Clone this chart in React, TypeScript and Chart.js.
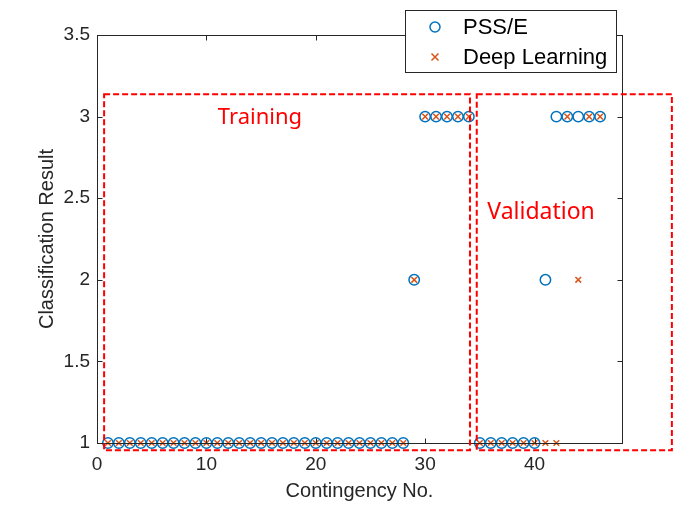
import React, { useEffect, useRef } from 'react';
import { Chart, registerables } from 'chart.js';

Chart.register(...registerables);

// ---- data ----
const contingency = [
  1, 2, 3, 4, 5, 6, 7, 8, 9, 10, 11, 12, 13, 14, 15, 16, 17, 18, 19, 20,
  21, 22, 23, 24, 25, 26, 27, 28, 29, 30, 31, 32, 33, 34, 35, 36, 37, 38, 39, 40,
  41, 42, 43, 44, 45, 46,
];
const pssE = [
  1, 1, 1, 1, 1, 1, 1, 1, 1, 1, 1, 1, 1, 1, 1, 1, 1, 1, 1, 1,
  1, 1, 1, 1, 1, 1, 1, 1, 2, 3, 3, 3, 3, 3, 1, 1, 1, 1, 1, 1,
  2, 3, 3, 3, 3, 3,
];
const deepLearning = [
  1, 1, 1, 1, 1, 1, 1, 1, 1, 1, 1, 1, 1, 1, 1, 1, 1, 1, 1, 1,
  1, 1, 1, 1, 1, 1, 1, 1, 2, 3, 3, 3, 3, 3, 1, 1, 1, 1, 1, 1,
  1, 1, 3, 2, 3, 3,
];
const seriesNames = ['PSS/E', 'Deep Learning'];
const xTickValues = [0, 10, 20, 30, 40];
const yTickValues = [1, 1.5, 2, 2.5, 3, 3.5];
const yTickLabels = ['1', '1.5', '2', '2.5', '3', '3.5'];
const xRange = [0, 48];
const yRange = [1, 3.5];

// annotated regions (data units)
const regionNames = ['Training', 'Validation'];
const regionXStart = [0.65, 34.72];
const regionXEnd = [34.1, 52.56];
const regionYStart = [0.955, 0.955];
const regionYEnd = [3.137, 3.137];
const regionLabelX = [14.9, 40.6];
const regionLabelY = [2.99, 2.415];

const AXIS_FONT = "'Liberation Sans', Arial, sans-serif";
const AXIS_COLOR = '#262626';
const BLUE = '#0072BD';
const ORANGE = '#D95319';

const overlayPlugin = {
  id: 'overlay',
  afterDatasetsDraw(chart: any) {
    const ctx = chart.ctx;
    const { left, right, top, bottom } = chart.chartArea;
    const xs = chart.scales.x;
    const ys = chart.scales.y;
    ctx.save();
    // axes box
    ctx.strokeStyle = AXIS_COLOR;
    ctx.lineWidth = 1;
    ctx.setLineDash([]);
    const L = Math.round(left) + 0.5;
    const R = Math.round(right) + 0.5;
    const T = Math.round(top) + 0.5;
    const B = Math.round(bottom) + 0.5;
    ctx.strokeRect(L, T, R - L, B - T);
    ctx.beginPath();
    xs.ticks.forEach((t: any) => {
      const px = Math.round(xs.getPixelForValue(t.value)) + 0.5;
      ctx.moveTo(px, B);
      ctx.lineTo(px, B - 5);
      ctx.moveTo(px, T);
      ctx.lineTo(px, T + 5);
    });
    ys.ticks.forEach((t: any) => {
      const py = Math.round(ys.getPixelForValue(t.value)) + 0.5;
      ctx.moveTo(L, py);
      ctx.lineTo(L + 5, py);
      ctx.moveTo(R, py);
      ctx.lineTo(R - 5, py);
    });
    ctx.stroke();

    // dashed region rectangles
    ctx.strokeStyle = '#FF0000';
    ctx.lineWidth = 2;
    ctx.setLineDash([6, 3]);
    regionNames.forEach((_, i) => {
      const x0 = xs.getPixelForValue(regionXStart[i]);
      const x1 = xs.getPixelForValue(regionXEnd[i]);
      const y0 = ys.getPixelForValue(regionYStart[i]);
      const y1 = ys.getPixelForValue(regionYEnd[i]);
      ctx.strokeRect(x0, y1, x1 - x0, y0 - y1);
    });
    ctx.setLineDash([]);

    // region labels
    ctx.fillStyle = '#FF0000';
    ctx.textAlign = 'center';
    ctx.textBaseline = 'middle';
    regionNames.forEach((name, i) => {
      ctx.font = `${i === 0 ? 22 : 23}px 'Noto Sans', 'Open Sans', sans-serif`;
      ctx.fillText(name, xs.getPixelForValue(regionLabelX[i]), ys.getPixelForValue(regionLabelY[i]));
    });

    // legend box
    const bx = 405.5, by = 10.5, bw = 211, bh = 62;
    ctx.fillStyle = '#FFFFFF';
    ctx.fillRect(bx, by, bw, bh);
    ctx.strokeStyle = AXIS_COLOR;
    ctx.lineWidth = 1;
    ctx.strokeRect(bx, by, bw, bh);
    const rows = [27, 57];
    const mx = 435;
    // circle
    ctx.strokeStyle = BLUE;
    ctx.lineWidth = 1.5;
    ctx.beginPath();
    ctx.arc(mx, rows[0], 5, 0, Math.PI * 2);
    ctx.stroke();
    // cross
    ctx.strokeStyle = ORANGE;
    ctx.beginPath();
    ctx.moveTo(mx - 3.5, rows[1] - 3.5);
    ctx.lineTo(mx + 3.5, rows[1] + 3.5);
    ctx.moveTo(mx + 3.5, rows[1] - 3.5);
    ctx.lineTo(mx - 3.5, rows[1] + 3.5);
    ctx.stroke();
    ctx.fillStyle = '#000000';
    ctx.textAlign = 'left';
    ctx.textBaseline = 'middle';
    ctx.font = `22px ${AXIS_FONT}`;
    seriesNames.forEach((n, i) => ctx.fillText(n, 463, rows[i] + 1));
    ctx.restore();
  },
};

export default function App() {
  const canvasRef = useRef<HTMLCanvasElement | null>(null);

  useEffect(() => {
    const canvas = canvasRef.current;
    if (!canvas) return;
    const chart = new Chart(canvas, {
      type: 'scatter',
      data: {
        datasets: [
          {
            label: seriesNames[1],
            data: contingency.map((c, i) => ({ x: c, y: deepLearning[i] })),
            pointStyle: 'crossRot',
            pointRadius: 4,
            pointBorderWidth: 1.5,
            borderColor: ORANGE,
            backgroundColor: ORANGE,
            showLine: false,
            clip: false as any,
            order: 0,
          },
          {
            label: seriesNames[0],
            data: contingency.map((c, i) => ({ x: c, y: pssE[i] })),
            pointStyle: 'circle',
            pointRadius: 5.2,
            pointBorderWidth: 1.5,
            borderColor: BLUE,
            backgroundColor: 'rgba(0,0,0,0)',
            showLine: false,
            clip: false as any,
            order: 1,
          },
        ],
      },
      options: {
        responsive: false,
        animation: false,
        events: [],
        layout: { padding: { top: 35, right: 78, left: 0, bottom: 0 } },
        plugins: {
          legend: { display: false },
          tooltip: { enabled: false },
        },
        scales: {
          x: {
            type: 'linear',
            min: xRange[0],
            max: xRange[1],
            grid: { display: false, drawTicks: false },
            border: { display: false },
            afterBuildTicks: (s: any) => {
              s.ticks = xTickValues.map((v) => ({ value: v }));
            },
            afterFit: (s: any) => {
              s.height = 70;
            },
            ticks: {
              padding: 10,
              color: AXIS_COLOR,
              font: { family: AXIS_FONT, size: 19 },
              maxRotation: 0,
              callback: (v: any) => String(v),
            },
            title: {
              display: true,
              text: 'Contingency No.',
              color: AXIS_COLOR,
              font: { family: AXIS_FONT, size: 20 },
              padding: { top: 0, bottom: 10 },
            },
          },
          y: {
            type: 'linear',
            min: yRange[0],
            max: yRange[1],
            grid: { display: false, drawTicks: false },
            border: { display: false },
            afterBuildTicks: (s: any) => {
              s.ticks = yTickValues.map((v) => ({ value: v }));
            },
            afterFit: (s: any) => {
              s.width = 97;
            },
            ticks: {
              padding: 7,
              color: AXIS_COLOR,
              font: { family: AXIS_FONT, size: 19 },
              callback: (v: any) => {
                const idx = yTickValues.indexOf(Number(v));
                return idx >= 0 ? yTickLabels[idx] : String(v);
              },
            },
            title: {
              display: true,
              text: 'Classification Result',
              color: AXIS_COLOR,
              font: { family: AXIS_FONT, size: 20 },
              padding: { top: 35, bottom: 0 },
            },
          },
        },
      },
      plugins: [overlayPlugin],
    });
    return () => chart.destroy();
  }, []);

  return (
    <div style={{ position: 'absolute', left: 0, top: 0, width: 700, height: 513, background: '#fff' }}>
      <canvas ref={canvasRef} width={700} height={513} style={{ display: 'block', width: 700, height: 513 }} />
    </div>
  );
}
